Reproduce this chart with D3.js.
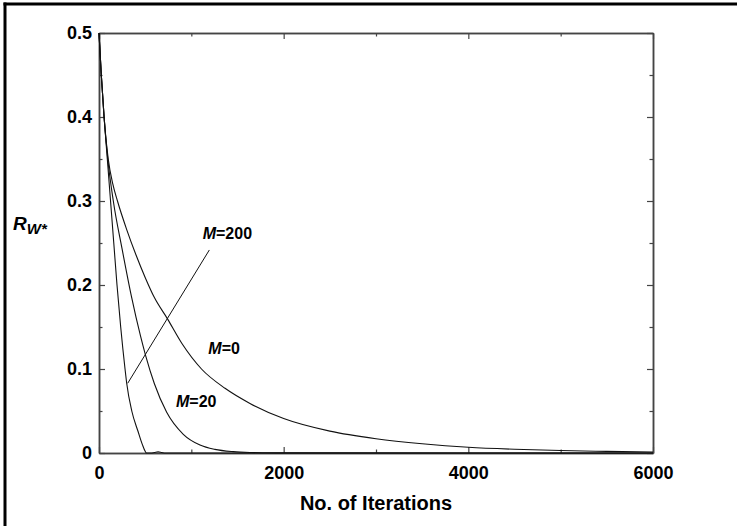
<!DOCTYPE html>
<html>
<head>
<meta charset="utf-8">
<script src="https://cdn.jsdelivr.net/npm/d3@7"></script>
<style>
  html, body { margin: 0; padding: 0; background: #fff; }
  svg { display: block; }
  text { font-family: "Liberation Sans", Arial, Helvetica, sans-serif; }
</style>
</head>
<body>
<script>
// ---- data ----
const iterM0 = [0, 25, 55, 100, 150, 200, 300, 400, 500, 600, 740, 900, 1110, 1365, 1635, 2000, 2500, 3000, 3500, 4000, 4500, 5000, 5500, 6000];
const valM0  = [0.5, 0.45, 0.4, 0.35, 0.32, 0.3, 0.266, 0.236, 0.209, 0.185, 0.16, 0.13, 0.1, 0.077, 0.059, 0.041, 0.026, 0.017, 0.011, 0.0068, 0.0044, 0.0029, 0.0019, 0.0012];

const iterM20 = [0, 25, 55, 95, 155, 250, 350, 450, 505, 600, 733, 913, 1094, 1255, 1455, 1650, 1800, 2000, 6000];
const valM20  = [0.5, 0.45, 0.4, 0.35, 0.3, 0.243, 0.187, 0.139, 0.116, 0.0825, 0.0485, 0.0223, 0.0095, 0.0043, 0.0016, 0.0006, 0.0003, 0.0001, 0];

const iterM200 = [0, 25, 55, 90, 125, 160, 195, 235, 282, 300, 355, 425, 470, 500, 515, 560, 600, 640, 680, 720, 6000];
const valM200  = [0.5, 0.45, 0.4, 0.35, 0.3, 0.25, 0.2, 0.15, 0.1, 0.083, 0.05, 0.025, 0.01, 0.002, 0, 0, 0.0006, 0.0013, 0.0006, 0, 0];

const xTicks = [0, 2000, 4000, 6000];
const xMinorTicks = [1000, 3000, 5000];
const yTicks = [0, 0.1, 0.2, 0.3, 0.4, 0.5];
const yMinorTicks = [0.05, 0.15, 0.25, 0.35, 0.45];

const labelText = ["=200", "=0", "=20"];
const labelIter = [1123, 1184, 834];
const labelVal  = [0.2548, 0.1175, 0.0551];

const pointerIter = [311, 1195];
const pointerVal  = [0.083, 0.2417];

// ---- drawing ----
const W = 737, H = 526;
const svg = d3.select("body").append("svg").attr("width", W).attr("height", H);

// outer frame (only top and left visible in reference)
svg.append("line").attr("x1", 3.5).attr("x2", W + 5).attr("y1", 4).attr("y2", 4)
  .attr("stroke", "#000").attr("stroke-width", 3);
svg.append("line").attr("x1", 5).attr("x2", 5).attr("y1", 2.5).attr("y2", H + 5)
  .attr("stroke", "#000").attr("stroke-width", 3);

const x = d3.scaleLinear().domain([0, 6000]).range([99, 653]);
const y = d3.scaleLinear().domain([0, 0.5]).range([453, 33]);

const fmtY = d => d === 0 ? "0" : d.toFixed(1);
const fmtX = d3.format("d");

function styleAxis(g) {
  g.selectAll("path.domain").attr("stroke", "#444").attr("stroke-width", 1.5);
  g.selectAll(".tick line").attr("stroke", "#444").attr("stroke-width", 1.2);
  g.selectAll("text").attr("font-size", 18).attr("font-weight", "bold").attr("fill", "#000")
    .attr("font-family", '"Liberation Sans", Arial, sans-serif');
}

// bottom
svg.append("g").attr("transform", `translate(0,${y(0)})`)
  .call(d3.axisBottom(x).tickValues(xTicks).tickFormat(fmtX).tickSize(-6).tickSizeOuter(0).tickPadding(13))
  .call(styleAxis);
svg.append("g").attr("transform", `translate(0,${y(0)})`)
  .call(d3.axisBottom(x).tickValues(xMinorTicks).tickFormat("").tickSize(-3.5).tickSizeOuter(0))
  .call(styleAxis);
// top
svg.append("g").attr("transform", `translate(0,${y(0.5)})`)
  .call(d3.axisTop(x).tickValues(xTicks).tickFormat("").tickSize(-6).tickSizeOuter(0))
  .call(styleAxis);
svg.append("g").attr("transform", `translate(0,${y(0.5)})`)
  .call(d3.axisTop(x).tickValues(xMinorTicks).tickFormat("").tickSize(-3.5).tickSizeOuter(0))
  .call(styleAxis);
// left
svg.append("g").attr("transform", `translate(${x(0)},0)`)
  .call(d3.axisLeft(y).tickValues(yTicks).tickFormat(fmtY).tickSize(-6).tickSizeOuter(0).tickPadding(7))
  .call(styleAxis);
svg.append("g").attr("transform", `translate(${x(0)},0)`)
  .call(d3.axisLeft(y).tickValues(yMinorTicks).tickFormat("").tickSize(-3.5).tickSizeOuter(0))
  .call(styleAxis);
// right
svg.append("g").attr("transform", `translate(${x(6000)},0)`)
  .call(d3.axisRight(y).tickValues(yTicks).tickFormat("").tickSize(-6).tickSizeOuter(0))
  .call(styleAxis);
svg.append("g").attr("transform", `translate(${x(6000)},0)`)
  .call(d3.axisRight(y).tickValues(yMinorTicks).tickFormat("").tickSize(-3.5).tickSizeOuter(0))
  .call(styleAxis);

// curves
const line = d3.line().x(d => x(d[0])).y(d => y(d[1])).curve(d3.curveMonotoneX);
const series = [
  d3.zip(iterM0, valM0),
  d3.zip(iterM20, valM20),
  d3.zip(iterM200, valM200)
];
svg.append("g").selectAll("path").data(series).join("path")
  .attr("d", line).attr("fill", "none").attr("stroke", "#111").attr("stroke-width", 1.1);

// pointer line
svg.append("path")
  .attr("d", d3.line().x(d => x(d[0])).y(d => y(d[1]))(d3.zip(pointerIter, pointerVal)))
  .attr("fill", "none").attr("stroke", "#111").attr("stroke-width", 1);

// curve labels
const lbl = svg.append("g").selectAll("text").data(d3.zip(labelText, labelIter, labelVal)).join("text")
  .attr("x", d => x(d[1])).attr("y", d => y(d[2]))
  .attr("font-size", 16).attr("font-weight", "bold").attr("fill", "#000");
lbl.append("tspan").attr("font-style", "italic").text("M");
lbl.append("tspan").text(d => d[0]);

// axis titles
svg.append("text").attr("x", 376).attr("y", 510).attr("text-anchor", "middle")
  .attr("font-size", 20).attr("font-weight", "bold").text("No. of Iterations");

const yt = svg.append("text").attr("x", 13).attr("y", 230)
  .attr("font-weight", "bold").attr("font-style", "italic");
yt.append("tspan").attr("font-size", 19).text("R");
yt.append("tspan").attr("font-size", 15).attr("dy", 4).text("W*");
</script>
</body>
</html>
